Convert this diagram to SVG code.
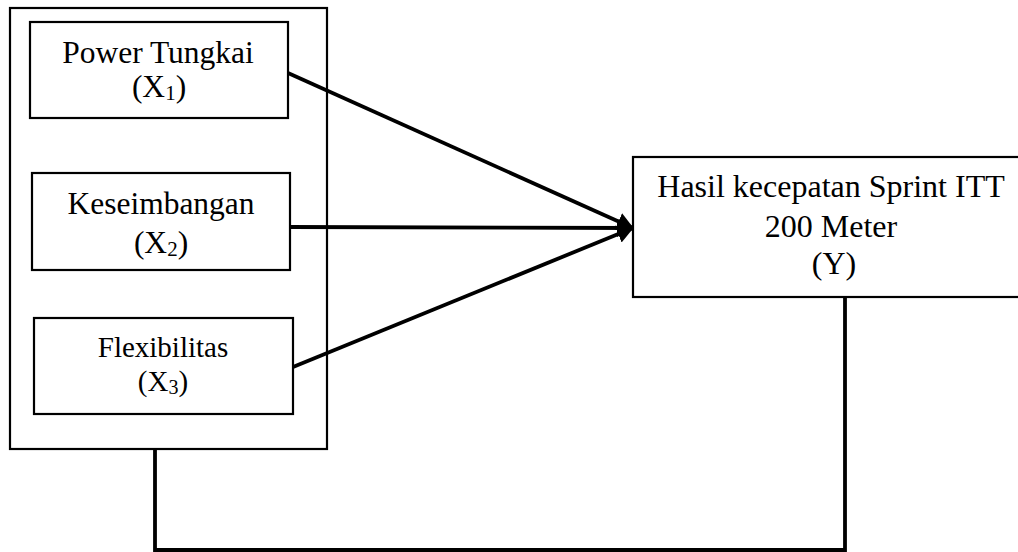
<svg xmlns="http://www.w3.org/2000/svg" width="1018" height="552" viewBox="0 0 1018 552">
<style>
.box{fill:#fff;stroke:#000;stroke-width:2.2}
.t{font-family:"Liberation Serif","Times New Roman",serif;font-size:31.5px;fill:#000;text-anchor:middle}
.s{font-size:21px}
.c{fill:none;stroke:#000;stroke-width:3.8}
</style>
<defs>
<marker id="ah" markerUnits="userSpaceOnUse" markerWidth="20" markerHeight="20" refX="16" refY="9" orient="auto">
<path d="M0,0 L17,9 L0,18 Z" fill="#000"/>
</marker>
</defs>
<rect width="1018" height="552" fill="#fff"/>
<g id="group-x">
<rect class="box" x="10" y="8" width="317" height="441"/>
</g>
<g id="node-x1">
<rect class="box" x="30" y="22" width="258" height="96"/>
<text class="t" x="158" y="63">Power Tungkai</text>
<text class="t" x="159" y="97">(X<tspan class="s" dy="3">1</tspan><tspan dy="-3">)</tspan></text>
</g>
<g id="node-x2">
<rect class="box" x="32" y="173" width="258" height="97"/>
<text class="t" x="161" y="214">Keseimbangan</text>
<text class="t" x="161" y="253">(X<tspan class="s" dy="3">2</tspan><tspan dy="-3">)</tspan></text>
</g>
<g id="node-x3">
<rect class="box" x="34" y="318" width="259" height="96"/>
<text class="t" x="163" y="357" style="font-size:29px">Flexibilitas</text>
<text class="t" x="163" y="391" style="font-size:29px">(X<tspan class="s" dy="3" style="font-size:20px">3</tspan><tspan dy="-3">)</tspan></text>
</g>
<g id="node-y">
<rect class="box" x="633" y="157" width="400" height="140"/>
<text class="t" x="831" y="197" style="font-size:32px">Hasil kecepatan Sprint ITT</text>
<text class="t" x="831" y="237" style="font-size:32px">200 Meter</text>
<text class="t" x="834" y="274" style="font-size:32px">(Y)</text>
</g>
<g id="connectors">
<line class="c" x1="288" y1="73" x2="633" y2="228" marker-end="url(#ah)"/>
<line class="c" x1="290" y1="227" x2="633" y2="228" marker-end="url(#ah)"/>
<line class="c" x1="293" y1="367" x2="633" y2="228" marker-end="url(#ah)"/>
<polyline class="c" points="155,449 155,550 845,550 845,297"/>
</g>
</svg>
